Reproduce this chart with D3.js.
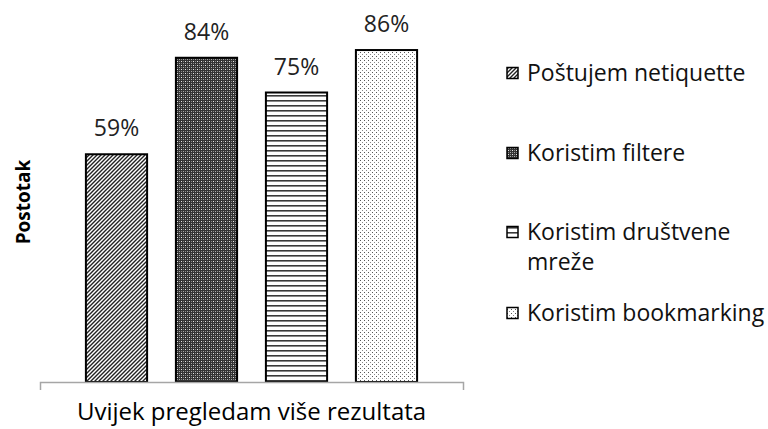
<!DOCTYPE html>
<meta charset="utf-8">
<script src="https://d3js.org/d3.v7.min.js"></script>
<style>
  body { margin: 0; background: #fff; }
  text { font-family: "Open Sans", "Noto Sans", sans-serif; fill: #000; }
</style>
<div id="chart"></div>
<script>
// data
var categories = ["Uvijek pregledam više rezultata"];
var series = ["Poštujem netiquette", "Koristim filtere", "Koristim društvene mreže", "Koristim bookmarking"];
var values = [59, 84, 75, 86];
var patterns = ["diag", "grid", "hlines", "dots"];
// legend labels, split into lines as drawn
var legendLines = [["Poštujem netiquette"], ["Koristim filtere"], ["Koristim društvene", "mreže"], ["Koristim bookmarking"]];

var W = 768, H = 429;
var svg = d3.select("#chart").append("svg")
  .attr("width", W).attr("height", H);

// fill patterns
var defs = svg.append("defs");
var p = defs.append("pattern").attr("id", "diag").attr("patternUnits", "userSpaceOnUse")
  .attr("width", 4).attr("height", 4);
p.append("rect").attr("width", 4).attr("height", 4).attr("fill", "#fff");
p.append("path").attr("d", "M-1,1 l2,-2 M0,4 l4,-4 M3,5 l2,-2")
  .attr("stroke", "#222").attr("stroke-width", 1.4);

p = defs.append("pattern").attr("id", "grid").attr("patternUnits", "userSpaceOnUse")
  .attr("width", 4).attr("height", 4);
p.append("rect").attr("width", 4).attr("height", 4).attr("fill", "#333");
p.append("rect").attr("x", 1).attr("y", 1).attr("width", 1).attr("height", 1).attr("fill", "#e6e6e6");
p.append("rect").attr("x", 3).attr("y", 3).attr("width", 1).attr("height", 1).attr("fill", "#aaa");
p.append("rect").attr("x", 3).attr("y", 1).attr("width", 1).attr("height", 1).attr("fill", "#888");
p.append("rect").attr("x", 1).attr("y", 3).attr("width", 1).attr("height", 1).attr("fill", "#888");

p = defs.append("pattern").attr("id", "hlines").attr("patternUnits", "userSpaceOnUse")
  .attr("width", 4).attr("height", 5);
p.append("rect").attr("width", 4).attr("height", 5).attr("fill", "#fff");
p.append("rect").attr("y", 0).attr("width", 4).attr("height", 1.6).attr("fill", "#3a3a3a");

p = defs.append("pattern").attr("id", "dots").attr("patternUnits", "userSpaceOnUse")
  .attr("width", 4).attr("height", 4);
p.append("rect").attr("width", 4).attr("height", 4).attr("fill", "#fff");
p.append("rect").attr("x", 0).attr("y", 0).attr("width", 1).attr("height", 1).attr("fill", "#555");
p.append("rect").attr("x", 2).attr("y", 2).attr("width", 1).attr("height", 1).attr("fill", "#888");

// scales
var x0 = d3.scaleBand().domain(categories).range([40, 463]);
var x1 = d3.scaleBand().domain(series)
  .range([x0(categories[0]), x0(categories[0]) + x0.bandwidth()])
  .paddingInner(0.32).paddingOuter(0.51);
var y = d3.scaleLinear().domain([0, 100]).range([382, -4]);

// bars
svg.selectAll("rect.bar")
  .data(values)
  .enter().append("rect")
    .attr("class", "bar")
    .attr("x", function(d, i) { return x1(series[i]); })
    .attr("y", function(d) { return y(d); })
    .attr("width", x1.bandwidth())
    .attr("height", function(d) { return y(0) - y(d); })
    .attr("fill", function(d, i) { return "url(#" + patterns[i] + ")"; })
    .attr("stroke", "#000")
    .attr("stroke-width", 2);

// value labels
svg.selectAll("text.val")
  .data(values)
  .enter().append("text")
    .attr("class", "val")
    .attr("x", function(d, i) { return x1(series[i]) + x1.bandwidth() / 2; })
    .attr("y", function(d) { return y(d) - 18; })
    .attr("text-anchor", "middle")
    .style("font-size", "23px")
    .style("fill", "#222")
    .text(function(d) { return d + "%"; });

// x axis
var xAxis = svg.append("g")
  .attr("transform", "translate(0,382)")
  .call(d3.axisBottom(x0).tickSizeInner(0).tickSizeOuter(8).tickPadding(21));
xAxis.select(".domain").attr("stroke", "#a6a6a6").attr("stroke-width", 1.5);
xAxis.selectAll("text")
  .style("font-family", "'Open Sans', 'Noto Sans', sans-serif")
  .style("font-size", "24px")
  .attr("fill", "#111");

// y title
svg.append("text")
  .attr("transform", "translate(30,202) rotate(-90)")
  .attr("text-anchor", "middle")
  .style("font-size", "19px")
  .style("font-weight", "bold")
  .text("Postotak");

// legend
var rowY = [73, 153, 232, 313];
var leg = svg.selectAll("g.leg")
  .data(series)
  .enter().append("g")
    .attr("class", "leg")
    .attr("transform", function(d, i) { return "translate(507," + rowY[i] + ")"; });
leg.append("rect")
  .attr("x", 0).attr("y", -5.5)
  .attr("width", 11).attr("height", 11)
  .attr("fill", function(d, i) { return "url(#" + patterns[i] + ")"; })
  .attr("stroke", "#000").attr("stroke-width", 1.5);
leg.each(function(d, i) {
  var t = d3.select(this).append("text")
    .attr("x", 20).attr("y", 0)
    .style("font-size", "23px")
    .style("fill", "#111");
  legendLines[i].forEach(function(line, j) {
    t.append("tspan").attr("x", 20).attr("dy", j === 0 ? "0.35em" : "30px").text(line);
  });
});
</script>
